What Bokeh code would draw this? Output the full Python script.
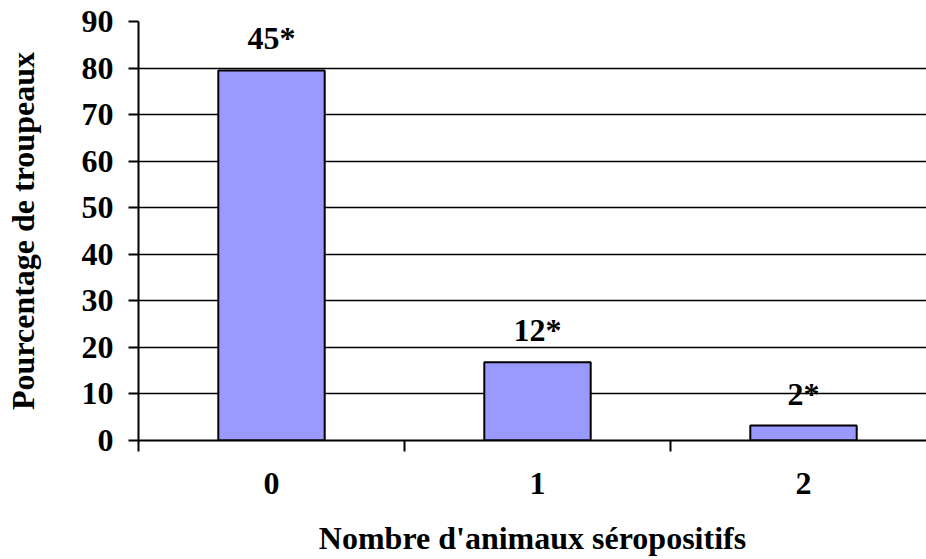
from bokeh.plotting import figure
from bokeh.models import Range1d, FixedTicker, ColumnDataSource
from bokeh.core.properties import value
from bokeh.embed import file_html
from bokeh.resources import INLINE

# Number of seropositive animals per herd and share of herds (%)
categories = [0, 1, 2]
category_labels = ["0", "1", "2"]
percent_herds = [79.5, 16.8, 3.2]
herd_counts = ["45*", "12*", "2*"]
y_ticks = [0, 10, 20, 30, 40, 50, 60, 70, 80, 90]

FONT = "Liberation Serif"
FS = "32px"

frame_left, frame_right = 138, 926
cat_px = 266.0
x_end = -0.5 + (frame_right - frame_left) / cat_px

p = figure(width=926, height=559, output_backend="svg", toolbar_location=None,
           x_range=Range1d(-0.5, x_end), y_range=Range1d(0, 90),
           min_border_left=frame_left, min_border_right=0,
           min_border_top=21, min_border_bottom=119)
p.outline_line_color = None
p.background_fill_color = "white"
p.border_fill_color = "white"

src = ColumnDataSource(dict(x=categories, top=percent_herds, lab=herd_counts))
p.vbar(x="x", top="top", bottom=0, width=0.4, source=src,
       fill_color="#9999FF", line_color="black", line_width=2)
p.text(x="x", y="top", text="lab", source=src, y_offset=-32,
       text_align="center", text_baseline="alphabetic",
       text_font=value(FONT), text_font_style="bold", text_font_size=FS,
       text_color="black")

# grid
p.xgrid.visible = False
p.ygrid.ticker = FixedTicker(ticks=y_ticks)
p.ygrid.grid_line_color = "black"
p.ygrid.grid_line_width = 1.6

# y axis
ya = p.yaxis[0]
ya.ticker = FixedTicker(ticks=y_ticks)
ya.axis_line_color = "black"
ya.axis_line_width = 2
ya.major_tick_line_color = "black"
ya.major_tick_line_width = 2
ya.major_tick_out = 10
ya.major_tick_in = 0
ya.minor_tick_line_color = None
ya.major_label_standoff = 15
ya.major_label_text_font = FONT
ya.major_label_text_font_style = "bold"
ya.major_label_text_font_size = FS
ya.major_label_text_color = "black"
ya.axis_label = "Pourcentage de troupeaux"
ya.axis_label_text_font = FONT
ya.axis_label_text_font_style = "bold"
ya.axis_label_text_font_size = FS
ya.axis_label_text_color = "black"
ya.axis_label_standoff = 38

# x axis: labels at category centres, tick marks at category boundaries
xa = p.xaxis[0]
xa.ticker = FixedTicker(ticks=categories, minor_ticks=[-0.5, 0.5, 1.5, 2.5])
xa.major_label_overrides = {c: l for c, l in zip(categories, category_labels)}
xa.axis_line_color = "black"
xa.axis_line_width = 2
xa.major_tick_out = 0
xa.major_tick_in = 0
xa.major_tick_line_color = None
xa.minor_tick_out = 11
xa.minor_tick_in = 0
xa.minor_tick_line_color = "black"
xa.minor_tick_line_width = 2
xa.major_label_standoff = 21
xa.major_label_text_font = FONT
xa.major_label_text_font_style = "bold"
xa.major_label_text_font_size = FS
xa.major_label_text_color = "black"
xa.axis_label = "Nombre d'animaux séropositifs"
xa.axis_label_text_font = FONT
xa.axis_label_text_font_style = "bold"
xa.axis_label_text_font_size = FS
xa.axis_label_text_color = "black"
xa.axis_label_standoff = 23

open("out.html", "w").write(file_html(p, INLINE))
